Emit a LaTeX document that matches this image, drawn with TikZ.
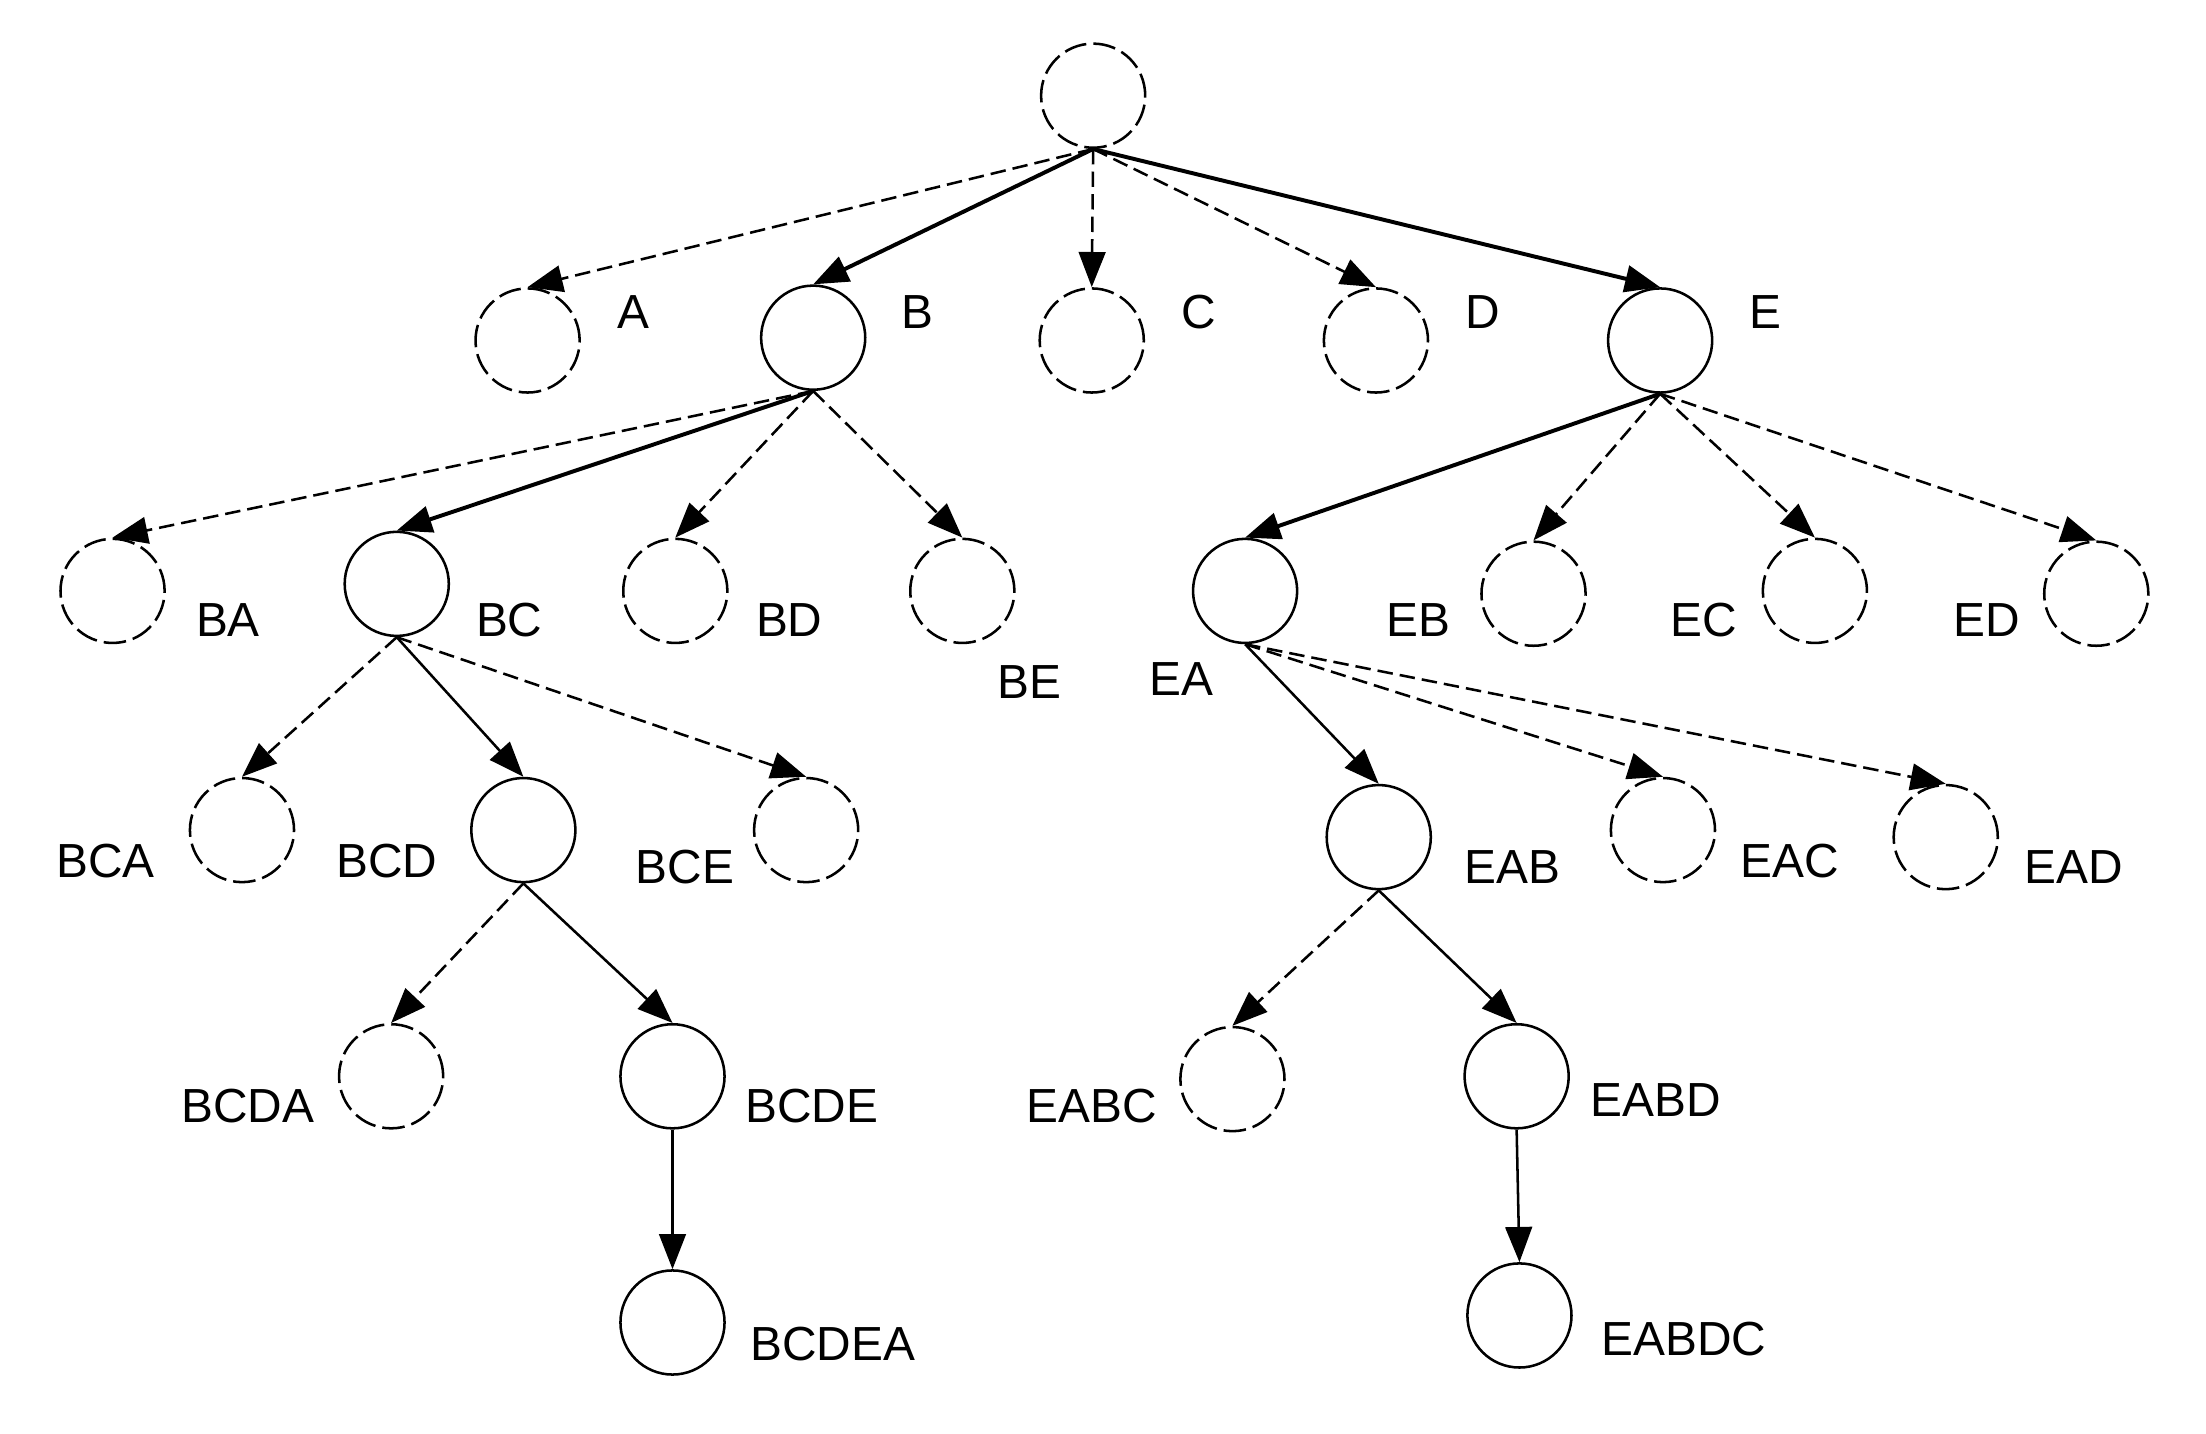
\documentclass[tikz,border=0pt]{standalone}
\usepackage{fontspec}
\setmainfont{Liberation Sans}
\usetikzlibrary{arrows.meta}
\begin{document}
\begin{tikzpicture}[x=0.5pt,y=-0.5pt,
  nd/.style={circle, draw, minimum size=37pt, inner sep=0pt, line width=0.9pt},
  sol/.style={nd},
  dsh/.style={nd, dash pattern=on 8pt off 2.5pt},
  lab/.style={font=\fontsize{17}{20}\selectfont, inner sep=0pt},
  edge/.style={-{Triangle[length=12.5pt,width=9.5pt]}, line width=0.9pt},
  edgethick/.style={edge, line width=1.4pt},
  edgedash/.style={edge, dash pattern=on 5.5pt off 2.5pt}]
\useasboundingbox (0,0) rectangle (1568,1019);
\fill[white] (0,0) rectangle (1568,1019);

% root and first level
\node[dsh] (r) at (777,68) {};
\node[dsh] (a) at (375,242) {};
\node[sol] (b) at (578,240) {};
\node[dsh] (c) at (776,242) {};
\node[dsh] (d) at (978,242) {};
\node[sol] (e) at (1180,242) {};
\node[lab] (la) at (450,222) {A};
\node[lab] (lb) at (652,222) {B};
\node[lab] (lc) at (852,222) {C};
\node[lab] (ld) at (1054,222) {D};
\node[lab] (le) at (1255,222) {E};

% second level
\node[dsh] (ba) at (80,420) {};
\node[sol] (bc) at (282,415) {};
\node[dsh] (bd) at (480,420) {};
\node[dsh] (be) at (684,420) {};
\node[sol] (ea) at (885,420) {};
\node[dsh] (eb) at (1090,422) {};
\node[dsh] (ec) at (1290,420) {};
\node[dsh] (ed) at (1490,422) {};
\node[lab] (lba) at (162,441) {BA};
\node[lab] (lbc) at (362,441) {BC};
\node[lab] (lbd) at (561,441) {BD};
\node[lab] (lbe) at (732,485) {BE};
\node[lab] (lea) at (840,483) {EA};
\node[lab] (leb) at (1008,441) {EB};
\node[lab] (lec) at (1211,441) {EC};
\node[lab] (led) at (1412,441) {ED};

% third level
\node[dsh] (bca) at (172,590) {};
\node[sol] (bcd) at (372,590) {};
\node[dsh] (bce) at (573,590) {};
\node[sol] (eab) at (980,595) {};
\node[dsh] (eac) at (1182,590) {};
\node[dsh] (ead) at (1383,595) {};
\node[lab] (lbca) at (75,612) {BCA};
\node[lab] (lbcd) at (275,612) {BCD};
\node[lab] (lbce) at (487,616) {BCE};
\node[lab] (leab) at (1075,616) {EAB};
\node[lab] (leac) at (1272,612) {EAC};
\node[lab] (lead) at (1474,616) {EAD};

% fourth level
\node[dsh] (bcda) at (278,765) {};
\node[sol] (bcde) at (478,765) {};
\node[dsh] (eabc) at (876,767) {};
\node[sol] (eabd) at (1078,765) {};
\node[lab] (lbcda) at (176,786) {BCDA};
\node[lab] (lbcde) at (577,786) {BCDE};
\node[lab] (leabc) at (776,786) {EABC};
\node[lab] (leabd) at (1177,782) {EABD};

% fifth level
\node[sol] (bcdea) at (478,940) {};
\node[sol] (eabdc) at (1080,935) {};
\node[lab] (lbcdea) at (592,955) {BCDEA};
\node[lab] (leabdc) at (1197,952) {EABDC};

% connectors
\draw[edgedash]  (r.south) -- (a.north);
\draw[edgethick] (r.south) -- (b.north);
\draw[edgedash]  (r.south) -- (c.north);
\draw[edgedash]  (r.south) -- (d.north);
\draw[edgethick] (r.south) -- (e.north);

\draw[edgedash]  (b.south) -- (ba.north);
\draw[edgethick] (b.south) -- (bc.north);
\draw[edgedash]  (b.south) -- (bd.north);
\draw[edgedash]  (b.south) -- (be.north);

\draw[edgethick] (e.south) -- (ea.north);
\draw[edgedash]  (e.south) -- (eb.north);
\draw[edgedash]  (e.south) -- (ec.north);
\draw[edgedash]  (e.south) -- (ed.north);

\draw[edgedash]  (bc.south) -- (bca.north);
\draw[edge]      (bc.south) -- (bcd.north);
\draw[edgedash]  (bc.south) -- (bce.north);

\draw[edge]      (ea.south) -- (eab.north);
\draw[edgedash]  (ea.south) -- (eac.north);
\draw[edgedash]  (ea.south) -- (ead.north);

\draw[edgedash]  (bcd.south) -- (bcda.north);
\draw[edge]      (bcd.south) -- (bcde.north);

\draw[edgedash]  (eab.south) -- (eabc.north);
\draw[edge]      (eab.south) -- (eabd.north);

\draw[edge]      (bcde.south) -- (bcdea.north);
\draw[edge]      (eabd.south) -- (eabdc.north);
\end{tikzpicture}
\end{document}
